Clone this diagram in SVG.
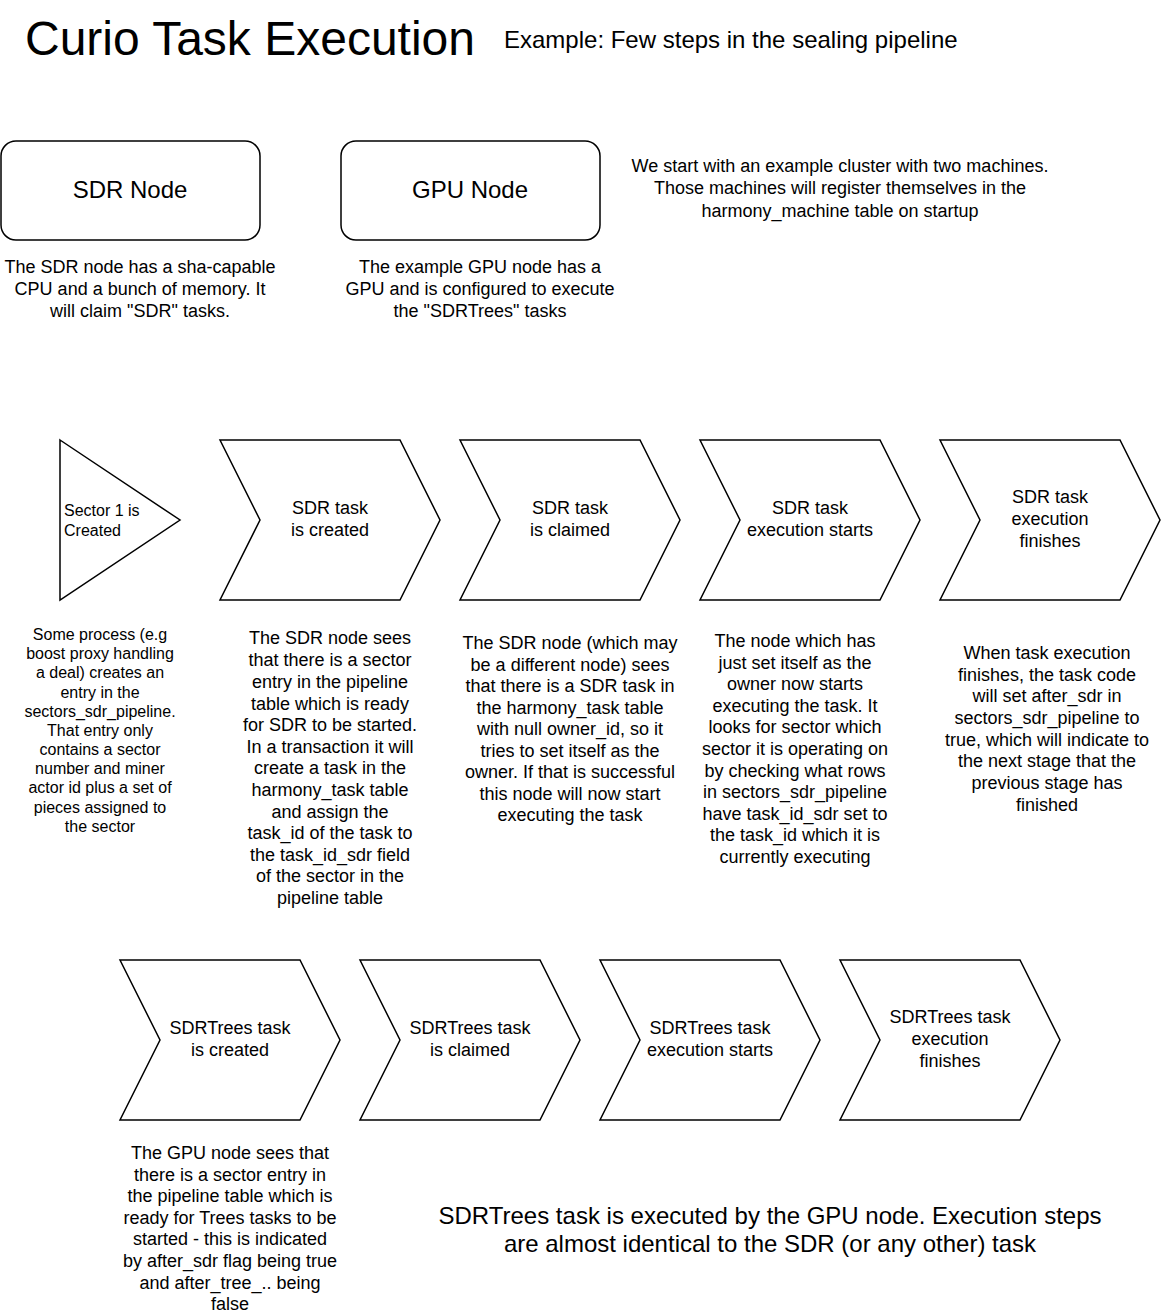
<svg xmlns="http://www.w3.org/2000/svg" width="1162" height="1316" viewBox="0 0 1162 1316">
<style>
text{font-family:"Liberation Sans",Arial,Helvetica,sans-serif;fill:#000}
.s{fill:#fff;stroke:#000;stroke-width:1.5}
.c{text-anchor:middle}
.f18{font-size:18px}
.f16{font-size:16px}
.f24{font-size:24px}
</style>
<defs>
<path id="chev" d="M0,0 L180,0 L220,80 L180,160 L0,160 L40,80 Z"/>
</defs>
<rect width="1162" height="1316" fill="#fff"/>
<g id="title">
<text x="25" y="55" font-size="48">Curio Task Execution</text>
<text x="504" y="48" class="f24">Example: Few steps in the sealing pipeline</text>
</g>
<g id="sdr-node">
<rect class="s" x="1" y="141" width="259" height="99" rx="15"/>
<text class="c f24" x="130" y="198">SDR Node</text>
</g>
<g id="gpu-node">
<rect class="s" x="341" y="141" width="259" height="99" rx="15"/>
<text class="c f24" x="470" y="198">GPU Node</text>
</g>
<g id="sdr-node-desc" class="c f18">
<text x="140" y="273">The SDR node has a sha-capable</text>
<text x="140" y="295">CPU and a bunch of memory. It</text>
<text x="140" y="317">will claim "SDR" tasks.</text>
</g>
<g id="gpu-node-desc" class="c f18">
<text x="480" y="273">The example GPU node has a</text>
<text x="480" y="295">GPU and is configured to execute</text>
<text x="480" y="317">the "SDRTrees" tasks</text>
</g>
<g id="cluster-desc" class="c f18">
<text x="840" y="172">We start with an example cluster with two machines.</text>
<text x="840" y="194">Those machines will register themselves in the</text>
<text x="840" y="217">harmony_machine table on startup</text>
</g>
<g id="sector-created">
<path class="s" d="M60,440 L180,520 L60,600 Z"/>
<text class="f16" x="64" y="516">Sector 1 is</text>
<text class="f16" x="64" y="536">Created</text>
</g>
<g id="sector-desc" class="c f16">
<text x="100" y="640">Some process (e.g</text>
<text x="100" y="659">boost proxy handling</text>
<text x="100" y="678">a deal) creates an</text>
<text x="100" y="698">entry in the</text>
<text x="100" y="717">sectors_sdr_pipeline.</text>
<text x="100" y="736">That entry only</text>
<text x="100" y="755">contains a sector</text>
<text x="100" y="774">number and miner</text>
<text x="100" y="793">actor id plus a set of</text>
<text x="100" y="813">pieces assigned to</text>
<text x="100" y="832">the sector</text>
</g>
<g id="sdr-created">
<use href="#chev" class="s" x="220" y="440"/>
<text class="c f18" x="330" y="514">SDR task</text>
<text class="c f18" x="330" y="536">is created</text>
</g>
<g id="sdr-claimed">
<use href="#chev" class="s" x="460" y="440"/>
<text class="c f18" x="570" y="514">SDR task</text>
<text class="c f18" x="570" y="536">is claimed</text>
</g>
<g id="sdr-exec-starts">
<use href="#chev" class="s" x="700" y="440"/>
<text class="c f18" x="810" y="514">SDR task</text>
<text class="c f18" x="810" y="536">execution starts</text>
</g>
<g id="sdr-exec-finishes">
<use href="#chev" class="s" x="940" y="440"/>
<text class="c f18" x="1050" y="503">SDR task</text>
<text class="c f18" x="1050" y="525">execution</text>
<text class="c f18" x="1050" y="547">finishes</text>
</g>
<g id="sdr-created-desc" class="c f18">
<text x="330" y="644">The SDR node sees</text>
<text x="330" y="666">that there is a sector</text>
<text x="330" y="688">entry in the pipeline</text>
<text x="330" y="710">table which is ready</text>
<text x="330" y="731">for SDR to be started.</text>
<text x="330" y="753">In a transaction it will</text>
<text x="330" y="774">create a task in the</text>
<text x="330" y="796">harmony_task table</text>
<text x="330" y="818">and assign the</text>
<text x="330" y="839">task_id of the task to</text>
<text x="330" y="861">the task_id_sdr field</text>
<text x="330" y="882">of the sector in the</text>
<text x="330" y="904">pipeline table</text>
</g>
<g id="sdr-claimed-desc" class="c f18">
<text x="570" y="649">The SDR node (which may</text>
<text x="570" y="671">be a different node) sees</text>
<text x="570" y="692">that there is a SDR task in</text>
<text x="570" y="714">the harmony_task table</text>
<text x="570" y="735">with null owner_id, so it</text>
<text x="570" y="757">tries to set itself as the</text>
<text x="570" y="778">owner. If that is successful</text>
<text x="570" y="800">this node will now start</text>
<text x="570" y="821">executing the task</text>
</g>
<g id="sdr-exec-starts-desc" class="c f18">
<text x="795" y="647">The node which has</text>
<text x="795" y="669">just set itself as the</text>
<text x="795" y="690">owner now starts</text>
<text x="795" y="712">executing the task. It</text>
<text x="795" y="733">looks for sector which</text>
<text x="795" y="755">sector it is operating on</text>
<text x="795" y="777">by checking what rows</text>
<text x="795" y="798">in sectors_sdr_pipeline</text>
<text x="795" y="820">have task_id_sdr set to</text>
<text x="795" y="841">the task_id which it is</text>
<text x="795" y="863">currently executing</text>
</g>
<g id="sdr-exec-finishes-desc" class="c f18">
<text x="1047" y="659">When task execution</text>
<text x="1047" y="681">finishes, the task code</text>
<text x="1047" y="702">will set after_sdr in</text>
<text x="1047" y="724">sectors_sdr_pipeline to</text>
<text x="1047" y="746">true, which will indicate to</text>
<text x="1047" y="767">the next stage that the</text>
<text x="1047" y="789">previous stage has</text>
<text x="1047" y="811">finished</text>
</g>
<g id="trees-created">
<use href="#chev" class="s" x="120" y="960"/>
<text class="c f18" x="230" y="1034">SDRTrees task</text>
<text class="c f18" x="230" y="1056">is created</text>
</g>
<g id="trees-claimed">
<use href="#chev" class="s" x="360" y="960"/>
<text class="c f18" x="470" y="1034">SDRTrees task</text>
<text class="c f18" x="470" y="1056">is claimed</text>
</g>
<g id="trees-exec-starts">
<use href="#chev" class="s" x="600" y="960"/>
<text class="c f18" x="710" y="1034">SDRTrees task</text>
<text class="c f18" x="710" y="1056">execution starts</text>
</g>
<g id="trees-exec-finishes">
<use href="#chev" class="s" x="840" y="960"/>
<text class="c f18" x="950" y="1023">SDRTrees task</text>
<text class="c f18" x="950" y="1045">execution</text>
<text class="c f18" x="950" y="1067">finishes</text>
</g>
<g id="trees-created-desc" class="c f18">
<text x="230" y="1159">The GPU node sees that</text>
<text x="230" y="1181">there is a sector entry in</text>
<text x="230" y="1202">the pipeline table which is</text>
<text x="230" y="1224">ready for Trees tasks to be</text>
<text x="230" y="1245">started - this is indicated</text>
<text x="230" y="1267">by after_sdr flag being true</text>
<text x="230" y="1289">and after_tree_.. being</text>
<text x="230" y="1310">false</text>
</g>
<g id="trees-note" class="c f24">
<text x="770" y="1224">SDRTrees task is executed by the GPU node. Execution steps</text>
<text x="770" y="1252">are almost identical to the SDR (or any other) task</text>
</g>
<g id="connectors"></g>
</svg>
